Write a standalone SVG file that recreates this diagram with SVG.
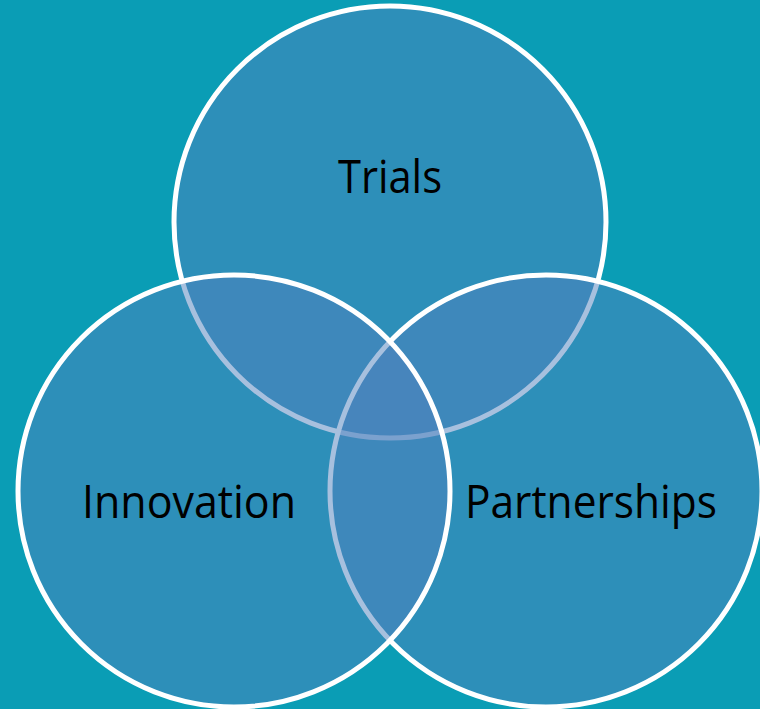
<svg xmlns="http://www.w3.org/2000/svg" width="760" height="709" viewBox="0 0 760 709">
<style>
.c{fill:#4F81BD;fill-opacity:0.5;stroke:#FFFFFF;stroke-width:5}
.t{font-family:"Open Sans","Liberation Sans",sans-serif;font-size:45px;fill:#000000;text-anchor:middle}
</style>
<rect x="0" y="0" width="760" height="709" fill="#0A9DB5"/>
<g id="trials">
<circle class="c" cx="390" cy="222" r="216"/>
<text class="t" x="390" y="193" textLength="104" lengthAdjust="spacingAndGlyphs">Trials</text>
</g>
<g id="partnerships">
<circle class="c" cx="546" cy="491" r="216"/>
<text class="t" x="591" y="518" textLength="252" lengthAdjust="spacingAndGlyphs">Partnerships</text>
</g>
<g id="innovation">
<circle class="c" cx="234" cy="491" r="216"/>
<text class="t" x="189" y="518" textLength="214" lengthAdjust="spacingAndGlyphs">Innovation</text>
</g>
<g id="connectors"/>
</svg>
